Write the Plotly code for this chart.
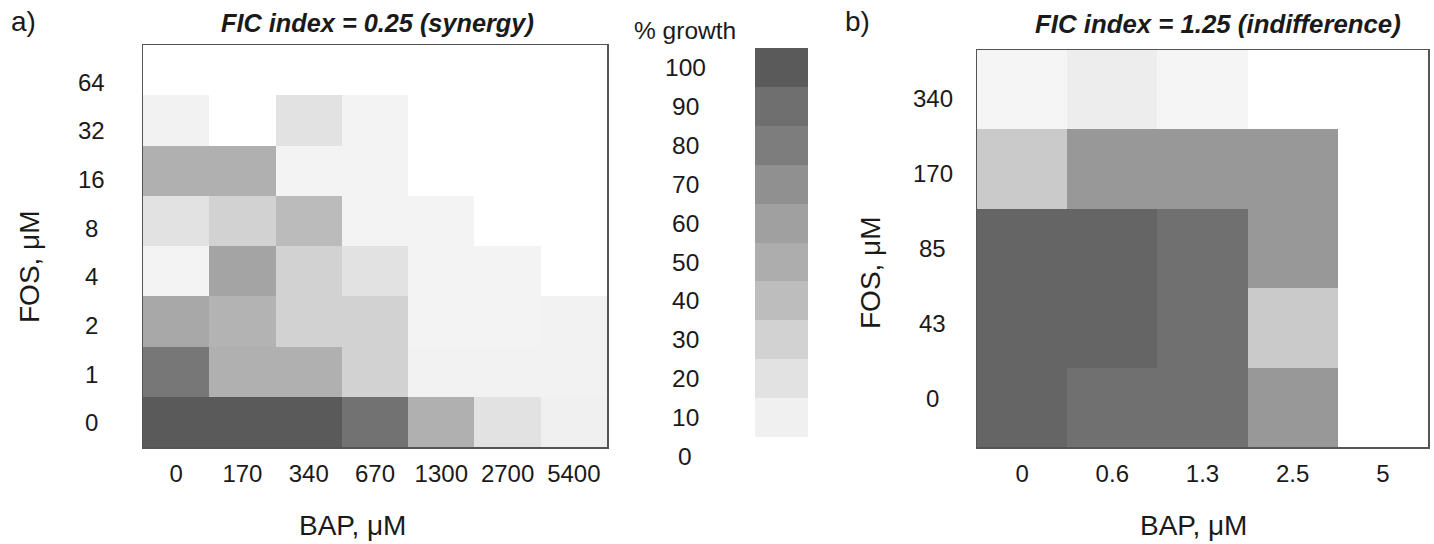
import plotly.graph_objects as go

# ---------------- data ----------------
BAP_A = ["0", "170", "340", "670", "1300", "2700", "5400"]
FOS_A = ["0", "1", "2", "4", "8", "16", "32", "64"]
# % growth, rows from FOS=0 (bottom) to FOS=64 (top), columns BAP 0..5400
GROWTH_A = [
    [100, 100, 100, 88, 48, 20, 10],
    [84, 48, 48, 30, 9, 9, 9],
    [54, 46, 30, 30, 8, 8, 9],
    [8, 57, 30, 20, 8, 8, 0],
    [20, 30, 41, 8, 8, 0, 0],
    [48, 48, 8, 8, 0, 0, 0],
    [9, 0, 20, 8, 0, 0, 0],
    [0, 0, 0, 0, 0, 0, 0],
]

BAP_B = ["0", "0.6", "1.3", "2.5", "5"]
FOS_B = ["0", "43", "85", "170", "340"]
GROWTH_B = [
    [95, 89, 89, 65, 0],
    [95, 95, 89, 34, 0],
    [95, 95, 89, 65, 0],
    [34, 65, 65, 65, 0],
    [7, 12, 7, 0, 0],
]

SCALE_LEVELS = [10, 20, 30, 40, 50, 60, 70, 80, 90, 100]
SCALE_LABELS = ["0", "10", "20", "30", "40", "50", "60", "70", "80", "90", "100"]

# ---------------- style ----------------
W, H = 1434, 544
FONT = "Liberation Sans, Arial, sans-serif"
TXT = "#1a1a1a"
FRAME = "#555555"

GRAYS = ["#ffffff", "#f0f0f0", "#e2e2e2", "#d2d2d2", "#bdbdbd", "#adadad",
         "#a0a0a0", "#909090", "#7d7d7d", "#6f6f6f", "#5a5a5a"]
COLORSCALE = [[i / 10, c] for i, c in enumerate(GRAYS)]


def xd(a, b):
    return [a / W, b / W]


def yd(top, bottom):
    return [1 - bottom / H, 1 - top / H]


fig = go.Figure()

# panel a
fig.add_trace(go.Heatmap(
    x=list(range(len(BAP_A))), y=list(range(len(FOS_A))), z=GROWTH_A,
    colorscale=COLORSCALE, zmin=0, zmax=100, showscale=False,
    hoverinfo="skip", xaxis="x", yaxis="y"))
# panel b
fig.add_trace(go.Heatmap(
    x=list(range(len(BAP_B))), y=list(range(len(FOS_B))), z=GROWTH_B,
    colorscale=COLORSCALE, zmin=0, zmax=100, showscale=False,
    hoverinfo="skip", xaxis="x2", yaxis="y2"))
# colour key
fig.add_trace(go.Heatmap(
    x=[0], y=list(range(len(SCALE_LEVELS))), z=[[v] for v in SCALE_LEVELS],
    colorscale=COLORSCALE, zmin=0, zmax=100, showscale=False,
    hoverinfo="skip", xaxis="x3", yaxis="y3"))
# invisible traces to hold label axes
fig.add_trace(go.Scatter(x=[0], y=[0], mode="markers", marker=dict(opacity=0),
                         hoverinfo="skip", showlegend=False, xaxis="x", yaxis="y4"))
fig.add_trace(go.Scatter(x=[0], y=[0], mode="markers", marker=dict(opacity=0),
                         hoverinfo="skip", showlegend=False, xaxis="x2", yaxis="y5"))

frame = dict(showline=True, mirror=True, linecolor=FRAME, linewidth=1.5,
             showgrid=False, zeroline=False, fixedrange=True)
tickfont = dict(family=FONT, size=24, color=TXT)

fig.update_layout(
    width=W, height=H, margin=dict(l=0, r=0, t=0, b=0),
    paper_bgcolor="white", plot_bgcolor="white", showlegend=False,
    xaxis=dict(domain=xd(143, 607), range=[-0.5, len(BAP_A) - 0.5],
               tickvals=list(range(len(BAP_A))), ticktext=BAP_A,
               ticks="", ticklabelstandoff=5, tickfont=tickfont, **frame),
    yaxis=dict(domain=yd(45, 447), range=[-0.5, len(FOS_A) - 0.5],
               showticklabels=False, ticks="", **frame),
    yaxis4=dict(domain=yd(45, 447), range=[-0.493, 7.762], overlaying="y",
                anchor="x", visible=False, fixedrange=True),
    xaxis2=dict(domain=xd(977, 1428), range=[-0.5, len(BAP_B) - 0.5],
                tickvals=list(range(len(BAP_B))), ticktext=BAP_B,
                ticks="", ticklabelstandoff=5, tickfont=tickfont,
                anchor="y2", **frame),
    yaxis2=dict(domain=yd(50, 447), range=[-0.5, len(FOS_B) - 0.5],
                showticklabels=False, ticks="", anchor="x2", **frame),
    yaxis5=dict(domain=yd(50, 447), range=[-0.647, 4.647], overlaying="y2",
                anchor="x2", visible=False, fixedrange=True),
    xaxis3=dict(domain=xd(755, 808), range=[-0.5, 0.5], visible=False,
                anchor="y3", fixedrange=True),
    yaxis3=dict(domain=yd(48, 476), range=[-1.5, len(SCALE_LEVELS) - 0.5],
                visible=False, anchor="x3", fixedrange=True),
)

ann = []


def txt(x, y, text, size, angle=0, xref="paper", yref="paper"):
    ann.append(dict(x=x, y=y, xref=xref, yref=yref, text=text, showarrow=False,
                    xanchor="center", yanchor="middle", textangle=angle,
                    font=dict(family=FONT, size=size, color=TXT)))


# y tick labels (centered)
for i, lab in enumerate(FOS_A):
    txt(91 / W, i, lab, 24, yref="y4")
for i, lab in enumerate(FOS_B):
    txt(933 / W, i, lab, 24, yref="y5")
# colour key labels
for i, lab in enumerate(SCALE_LABELS):
    txt(685 / W, i - 1, lab, 24.5, yref="y3")
txt(685 / W, 1 - 30 / H, "% growth", 24.5)

# titles
txt(377 / W, 1 - 23 / H, "<b><i>FIC index = 0.25 (synergy)</i></b>", 25.3)
txt(1218 / W, 1 - 24 / H, "<b><i>FIC index = 1.25 (indifference)</i></b>", 25.8)
txt(23 / W, 1 - 22 / H, "a)", 28)
txt(857 / W, 1 - 22 / H, "b)", 28)

# axis titles
txt(30 / W, 1 - 267 / H, "FOS, μM", 28, angle=-90)
txt(870 / W, 1 - 273 / H, "FOS, μM", 28, angle=-90)
txt(352 / W, 1 - 525 / H, "BAP, μM", 28)
txt(1193 / W, 1 - 525 / H, "BAP, μM", 28)

fig.update_layout(annotations=ann)

fig.write_html(
    "out.html",
    config={"displayModeBar": False, "staticPlot": True},
    post_script="document.body.style.margin='0';document.body.style.overflow='hidden';",
)
